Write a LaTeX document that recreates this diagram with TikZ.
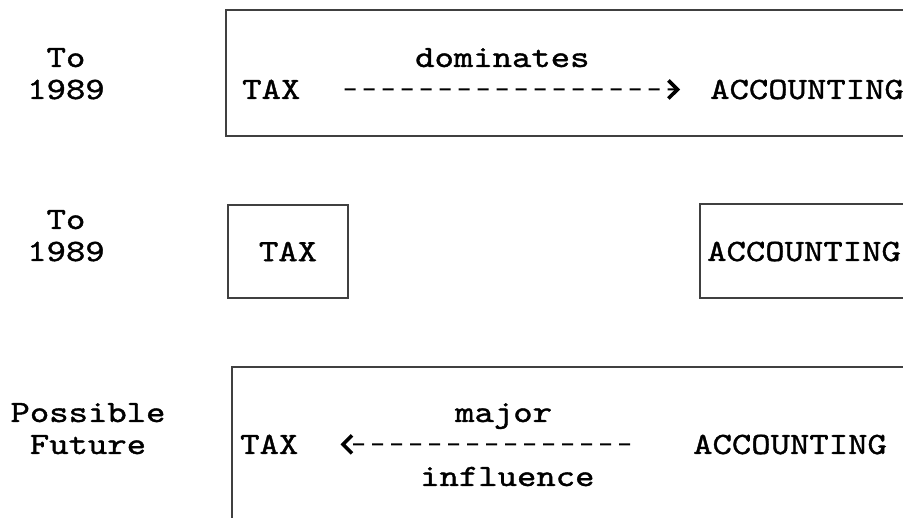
\documentclass[tikz,border=0pt]{standalone}
\usepackage{fontspec}
\setmonofont{lmmono10-regular.otf}[FakeBold=1.2,FakeStretch=1.19]
\usetikzlibrary{arrows.meta}
\begin{document}
\begin{tikzpicture}[x=1pt,y=-1pt,
  lbl/.style={font=\ttfamily\fontsize{31}{32}\selectfont, inner sep=0pt},
  frame/.style={line width=1.3pt, black!75},
  dasharrow/.style={line width=2pt, dash pattern=on 11pt off 8pt},
  barb/.style={-{Straight Barb[length=9pt,width=18pt,line width=3.6pt]}}]
\useasboundingbox (0,0) rectangle (903,518);
% row 1
\node[lbl,anchor=base] (to1) at (66,67) {To};
\node[lbl,anchor=base] (y1) at (66,99) {1989};
\draw[frame] (903,10) -- (226,10) -- (226,136) -- (903,136);
\node[lbl,anchor=base west] (dom) at (415,67) {dominates};
\node[lbl,anchor=base west] (tax1) at (242,99) {TAX};
\node[lbl,anchor=base west] (acc1) at (710,99) {ACCOUNTING};
\draw[dasharrow,barb,shorten <=44pt,shorten >=30pt] (tax1.east) -- (acc1.west);
% row 2
\node[lbl,anchor=base] (to2) at (66,229) {To};
\node[lbl,anchor=base] (y2) at (66,261) {1989};
\node[lbl,draw,line width=1.3pt,black!75,text=black,minimum width=120pt,minimum height=93pt] (tax2) at (288,251.5) {TAX};
\draw[frame] (903,204) -- (700,204) -- (700,298) -- (903,298);
\node[lbl,anchor=base west] (acc2) at (707,261) {ACCOUNTING};
% row 3
\node[lbl,anchor=base] (pos) at (88,422) {Possible};
\node[lbl,anchor=base] (fut) at (88,454) {Future};
\draw[frame] (903,367) -- (232,367) -- (232,518);
\node[lbl,anchor=base west] (maj) at (455,422) {major};
\node[lbl,anchor=base west] (tax3) at (240,454) {TAX};
\node[lbl,anchor=base west] (acc3) at (693,454) {ACCOUNTING};
\node[lbl,anchor=base west] (inf) at (420,486) {influence};
\draw[dasharrow,barb,shorten <=63pt,shorten >=42pt] (acc3.west) -- (tax3.east);
\end{tikzpicture}
\end{document}
